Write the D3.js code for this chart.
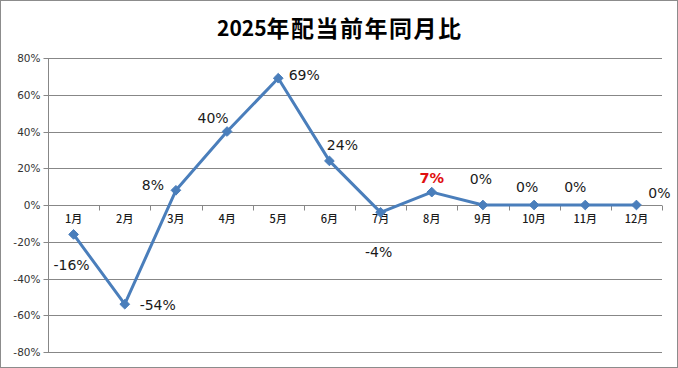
<!DOCTYPE html>
<html><head><meta charset="utf-8">
<script src="https://cdn.jsdelivr.net/npm/d3@7/dist/d3.min.js"></script>
<style>body{margin:0;background:#fff}svg{display:block}</style>
</head><body>
<svg id="c" width="678" height="368"></svg>
<script>
const titleYear = "2025";
const titleRest = "年配当前年同月比";
const months = ["1月","2月","3月","4月","5月","6月","7月","8月","9月","10月","11月","12月"];
const values = [-16, -54, 8, 40, 69, 24, -4, 7, 0, 0, 0, 0];
const yTicks = [-80, -60, -40, -20, 0, 20, 40, 60, 80];
const highlightIndex = 7;
// label offsets (style): dx, dy from point
const labelOffsets = [[-2,31],[33,1],[-23,-5],[-14,-14],[26,-3],[13,-16],[-2,40],[0,-14],[-2,-26],[-7,-18],[-10,-18],[23,-12]];

const W = 678, H = 368;
const svg = d3.select("#c");
svg.append("rect").attr("x",0.5).attr("y",0.5).attr("width",W-1).attr("height",H-1)
  .attr("fill","#fff").attr("stroke","#8c8c8c").attr("stroke-width",1);

const pLeft = 48, pRight = 662, pTop = 58, pBottom = 352;
const x = d3.scaleBand().domain(months).range([pLeft, pRight]).padding(0);
const y = d3.scaleLinear().domain([-80, 80]).range([pBottom, pTop]);

// gridlines
svg.append("g").selectAll("line").data(yTicks).join("line")
  .attr("x1", pLeft).attr("x2", pRight)
  .attr("y1", d => Math.round(y(d)) + 0.5).attr("y2", d => Math.round(y(d)) + 0.5)
  .attr("stroke", "#878787").attr("stroke-width", 1);

// y axis
const yAxis = d3.axisLeft(y).tickValues(yTicks).tickSize(5).tickFormat(d => d + "%");
const gy = svg.append("g").attr("transform", `translate(${pLeft + 0.5},0)`).call(yAxis);
gy.select(".domain").attr("stroke", "#878787").attr("d", `M0,${y(80)}V${y(-80)}`);
gy.selectAll(".tick").attr("transform", d => `translate(0,${Math.round(y(d)) + 0.5})`);
gy.selectAll(".tick line").attr("stroke", "#878787");
gy.selectAll(".tick text").attr("font-family", "DejaVu Sans, Verdana, sans-serif")
  .attr("font-size", 10.5).attr("fill", "#333").attr("x", -8);

// x axis at zero
const zeroY = Math.round(y(0)) + 0.5;
const xAxis = d3.axisBottom(x).tickSize(0).tickFormat(d => d);
const gx = svg.append("g").attr("transform", `translate(0,${zeroY})`).call(xAxis);
gx.select(".domain").remove();
gx.selectAll(".tick text").attr("font-family", "Noto Sans CJK JP, sans-serif")
  .attr("font-size", 11).attr("font-weight", 500).attr("fill", "#1a1a1a").attr("dy", "1.35em");
// category boundary ticks
const bounds = d3.range(months.length + 1).map(i => pLeft + i * x.bandwidth());
svg.append("g").selectAll("line").data(bounds).join("line")
  .attr("x1", d => Math.round(d) + 0.5).attr("x2", d => Math.round(d) + 0.5)
  .attr("y1", zeroY).attr("y2", zeroY + 5)
  .attr("stroke", "#878787");

// line
const cx = (d, i) => x(months[i]) + x.bandwidth() / 2;
const line = d3.line().x((d, i) => cx(d, i)).y(d => y(d));
svg.append("path").datum(values).attr("d", line)
  .attr("fill", "none").attr("stroke", "#4a7ebb").attr("stroke-width", 3).attr("stroke-linejoin", "round");

// diamond markers
svg.append("g").selectAll("path").data(values).join("path")
  .attr("d", d3.symbol().type(d3.symbolDiamond2).size(60))
  .attr("transform", (d, i) => `translate(${cx(d, i)},${y(d)})`)
  .attr("fill", "#4a7ebb").attr("stroke", "#4a7ebb").attr("stroke-width", 1);

// data labels
svg.append("g").selectAll("text").data(values).join("text")
  .attr("x", (d, i) => cx(d, i) + labelOffsets[i][0])
  .attr("y", (d, i) => y(d) + labelOffsets[i][1])
  .attr("text-anchor", "middle").attr("dominant-baseline", "central")
  .attr("font-family", "DejaVu Sans, Verdana, sans-serif")
  .attr("font-size", (d, i) => i === highlightIndex ? 14.5 : 14)
  .attr("font-weight", (d, i) => i === highlightIndex ? "bold" : "normal")
  .attr("fill", (d, i) => i === highlightIndex ? "#e01010" : "#1a1a1a")
  .text(d => d + "%");

// title
const title = svg.append("text").attr("x", 217).attr("y", 27)
  .attr("dominant-baseline", "central")
  .attr("font-family", "Noto Sans CJK JP, sans-serif").attr("font-weight", "bold")
  .attr("fill", "#000");
title.append("tspan").attr("font-size", 21).text(titleYear);
title.append("tspan").attr("font-size", 23).attr("letter-spacing", 1.5).text(titleRest);
</script>
</body></html>
